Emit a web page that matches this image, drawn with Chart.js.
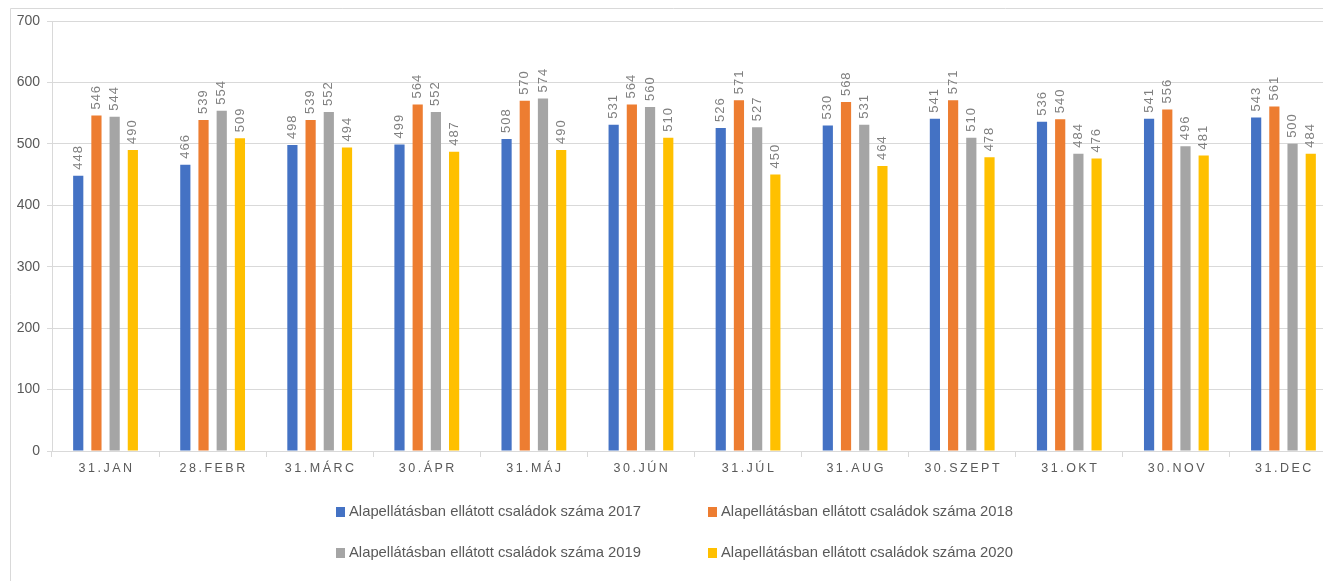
<!DOCTYPE html>
<html lang="hu">
<head>
    <meta charset="UTF-8">
    <title>Alapellátásban ellátott családok száma</title>
    <script src="https://cdn.jsdelivr.net/npm/chart.js"></script>
    <style>
        body { margin: 0; background: #fff; overflow: hidden; }
        canvas { display: block; }
    </style>
</head>
<body>
    <!-- a diagram jobb széle kilóg az ablakból, mint az eredetin -->
    <canvas id="myChart" width="1337" height="581"></canvas>

    <script>
        // Adatok
        const honapok = ["31.JAN", "28.FEBR", "31.MÁRC", "30.ÁPR", "31.MÁJ", "30.JÚN",
                         "31.JÚL", "31.AUG", "30.SZEPT", "31.OKT", "30.NOV", "31.DEC"];
        const adat2017 = [448, 466, 498, 499, 508, 531, 526, 530, 541, 536, 541, 543];
        const adat2018 = [546, 539, 539, 564, 570, 564, 571, 568, 571, 540, 556, 561];
        const adat2019 = [544, 554, 552, 552, 574, 560, 527, 531, 510, 484, 496, 500];
        const adat2020 = [490, 509, 494, 487, 490, 510, 450, 464, 478, 476, 481, 484];
        const feliratok = [
            "Alapellátásban ellátott családok száma 2017",
            "Alapellátásban ellátott családok száma 2018",
            "Alapellátásban ellátott családok száma 2019",
            "Alapellátásban ellátott családok száma 2020"
        ];
        const szinek = ["#4472C4", "#ED7D31", "#A5A5A5", "#FFC000"];

        const szoveg = "#595959";
        const racs = "#d9d9d9";

        // keret, x feliratok, adatcímkék, jelmagyarázat
        const rajzolo = {
            id: "rajzolo",
            beforeDraw(chart) {
                const ctx = chart.ctx;
                ctx.save();
                ctx.strokeStyle = racs;
                ctx.lineWidth = 1;
                ctx.beginPath();
                ctx.moveTo(10.5, chart.height);
                ctx.lineTo(10.5, 8.5);
                ctx.lineTo(chart.width, 8.5);
                ctx.stroke();
                ctx.restore();
            },
            afterDatasetsDraw(chart) {
                const ctx = chart.ctx;
                ctx.save();
                ctx.font = "13px 'Liberation Sans'";
                ctx.fillStyle = "#7f7f7f";
                ctx.letterSpacing = "1px";
                ctx.textAlign = "left";
                ctx.textBaseline = "middle";
                chart.data.datasets.forEach((ds, i) => {
                    chart.getDatasetMeta(i).data.forEach((el, j) => {
                        ctx.save();
                        ctx.translate(el.x, el.y - 6);
                        ctx.rotate(-Math.PI / 2);
                        ctx.fillText(String(ds.data[j]), 0, 0);
                        ctx.restore();
                    });
                });

                // x tengely feliratai ritkítva
                const x = chart.scales.x;
                ctx.font = "12.5px 'Liberation Sans'";
                ctx.fillStyle = szoveg;
                ctx.letterSpacing = "2.5px";
                ctx.textAlign = "center";
                honapok.forEach((h, i) => {
                    ctx.fillText(h, x.getPixelForTick(i) + 1, chart.chartArea.bottom + 18);
                });

                // jelmagyarázat
                ctx.font = "14.8px 'Liberation Sans'";
                ctx.letterSpacing = "0px";
                ctx.textAlign = "left";
                const oszlopok = [340, 712];
                const sorok = [512, 553];
                feliratok.forEach((f, i) => {
                    const lx = oszlopok[i % 2];
                    const ly = sorok[Math.floor(i / 2)];
                    ctx.fillStyle = szinek[i];
                    ctx.fillRect(lx - 4, ly - 5, 9, 10);
                    ctx.fillStyle = szoveg;
                    ctx.fillText(f, lx + 9, ly);
                });
                ctx.restore();
            }
        };

        const ctx = document.getElementById("myChart").getContext("2d");

        new Chart(ctx, {
            type: "bar",
            data: {
                labels: honapok,
                datasets: [adat2017, adat2018, adat2019, adat2020].map((d, i) => ({
                    label: feliratok[i],
                    data: d,
                    backgroundColor: szinek[i],
                    barPercentage: 0.56,
                    categoryPercentage: 0.68
                }))
            },
            options: {
                responsive: false,
                animation: false,
                layout: { padding: { top: 21, right: 0, left: 0, bottom: 0 } },
                plugins: {
                    legend: { display: false },
                    tooltip: { enabled: false }
                },
                scales: {
                    x: {
                        grid: {
                            offset: true,
                            drawOnChartArea: false,
                            tickLength: 6,
                            color: racs
                        },
                        border: { color: racs },
                        ticks: { color: "rgba(0,0,0,0)", font: { size: 12 } },
                        afterFit(scale) { scale.height = 130; }
                    },
                    y: {
                        min: 0,
                        max: 700,
                        ticks: {
                            stepSize: 100,
                            color: szoveg,
                            padding: 7,
                            font: { family: "'Liberation Sans'", size: 14 }
                        },
                        grid: { color: racs, tickLength: 5 },
                        border: { color: racs },
                        afterFit(scale) { scale.width = 52; }
                    }
                }
            },
            plugins: [rajzolo]
        });
    </script>
</body>
</html>
